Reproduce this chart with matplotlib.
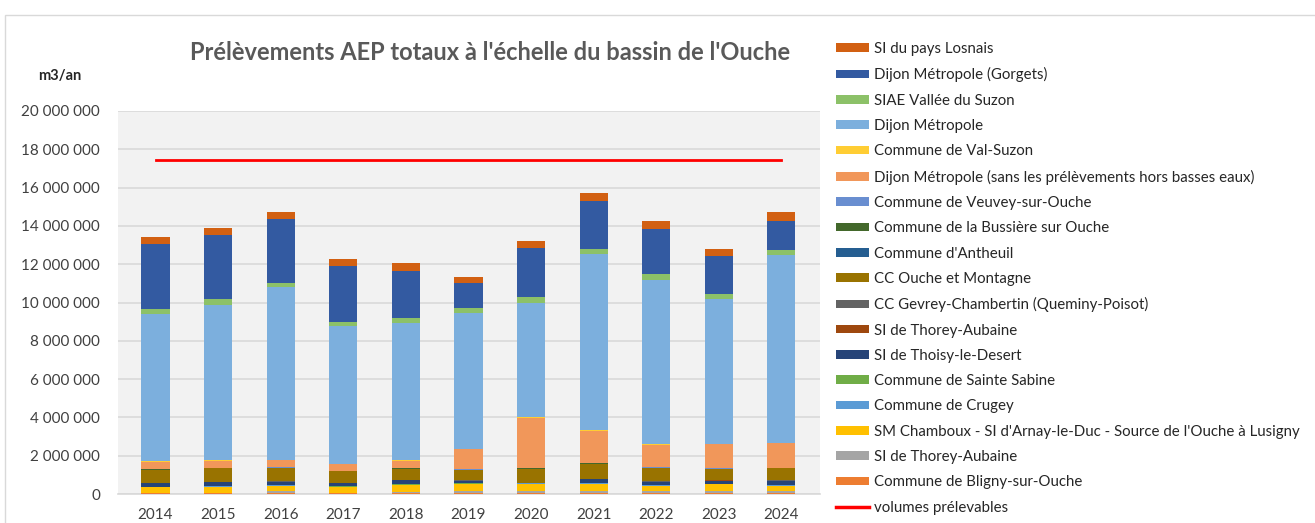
import numpy as np
import matplotlib
matplotlib.use("Agg")
import matplotlib.pyplot as plt
from matplotlib.patches import Patch, Rectangle
from matplotlib.lines import Line2D
from matplotlib.ticker import FuncFormatter

plt.rcParams['font.family'] = ['Lato', 'DejaVu Sans']

years = ['2014', '2015', '2016', '2017', '2018', '2019', '2020', '2021', '2022', '2023', '2024']

# volumes in millions of m3, stacked bottom -> top
bligny      = [0.04, 0.04, 0.04, 0.05, 0.04, 0.04, 0.04, 0.04, 0.04, 0.04, 0.04]
thorey_gris = [0.01, 0.01, 0.12, 0.02, 0.08, 0.12, 0.12, 0.12, 0.10, 0.12, 0.12]
chamboux    = [0.30, 0.33, 0.27, 0.30, 0.33, 0.36, 0.38, 0.38, 0.29, 0.34, 0.27]
crugey      = [0.02, 0.02, 0.02, 0.02, 0.04, 0.02, 0.01, 0.05, 0.02, 0.03, 0.02]
sabine      = [0.01, 0.01, 0.01, 0.01, 0.01, 0.01, 0.01, 0.01, 0.01, 0.01, 0.01]
thoisy      = [0.18, 0.20, 0.18, 0.17, 0.21, 0.13, 0.01, 0.18, 0.17, 0.16, 0.22]
thorey_brun = [0.01, 0.01, 0.01, 0.01, 0.01, 0.01, 0.01, 0.01, 0.01, 0.01, 0.01]
gevrey      = [0.02, 0.02, 0.02, 0.02, 0.02, 0.02, 0.02, 0.02, 0.02, 0.02, 0.02]
ouche_mont  = [0.68, 0.70, 0.69, 0.58, 0.58, 0.54, 0.72, 0.77, 0.70, 0.58, 0.63]
antheuil    = [0.01, 0.01, 0.01, 0.01, 0.01, 0.01, 0.01, 0.01, 0.01, 0.01, 0.01]
bussiere    = [0.01, 0.01, 0.01, 0.01, 0.01, 0.01, 0.01, 0.01, 0.01, 0.01, 0.01]
veuvey      = [0.02, 0.02, 0.02, 0.02, 0.02, 0.02, 0.02, 0.04, 0.02, 0.04, 0.02]
dijon_hbe   = [0.38, 0.37, 0.39, 0.36, 0.36, 1.04, 2.60, 1.67, 1.16, 1.25, 1.27]
val_suzon   = [0.01, 0.01, 0.01, 0.01, 0.06, 0.01, 0.04, 0.05, 0.05, 0.01, 0.03]
dijon       = [7.70, 8.09, 9.00, 7.16, 7.17, 7.11, 6.00, 9.16, 8.59, 7.54, 9.82]
siae_suzon  = [0.25, 0.33, 0.22, 0.22, 0.22, 0.28, 0.30, 0.25, 0.30, 0.25, 0.22]
gorgets     = [3.40, 3.32, 3.33, 2.93, 2.48, 1.27, 2.55, 2.55, 2.35, 2.00, 1.53]
losnais     = [0.35, 0.40, 0.35, 0.35, 0.40, 0.35, 0.35, 0.40, 0.40, 0.35, 0.45]

volumes_prelevables = 17.45

series = [
    ("Commune de Bligny-sur-Ouche", bligny, "#ED7D31"),
    ("SI de Thorey-Aubaine", thorey_gris, "#A5A5A5"),
    ("SM Chamboux - SI d'Arnay-le-Duc - Source de l'Ouche à Lusigny", chamboux, "#FFC000"),
    ("Commune de Crugey", crugey, "#5B9BD5"),
    ("Commune de Sainte Sabine", sabine, "#70AD47"),
    ("SI de Thoisy-le-Desert", thoisy, "#264478"),
    ("SI de Thorey-Aubaine", thorey_brun, "#9E480E"),
    ("CC Gevrey-Chambertin (Queminy-Poisot)", gevrey, "#636363"),
    ("CC Ouche et Montagne", ouche_mont, "#997300"),
    ("Commune d'Antheuil", antheuil, "#255E91"),
    ("Commune de la Bussière sur Ouche", bussiere, "#43682B"),
    ("Commune de Veuvey-sur-Ouche", veuvey, "#698ED0"),
    ("Dijon Métropole (sans les prélèvements hors basses eaux)", dijon_hbe, "#F1975A"),
    ("Commune de Val-Suzon", val_suzon, "#FFCD33"),
    ("Dijon Métropole", dijon, "#7CAFDD"),
    ("SIAE Vallée du Suzon", siae_suzon, "#8CC168"),
    ("Dijon Métropole (Gorgets)", gorgets, "#335AA1"),
    ("SI du pays Losnais", losnais, "#D26012"),
]

fig = plt.figure(figsize=(13.15, 5.23), dpi=100)
ax = fig.add_axes([0.0897, 0.0554, 0.534, 0.7324])
ax.set_facecolor('#F2F2F2')

# chart border
fig.patches.append(Rectangle((5 / 1315, -0.1), 1.1, (523 - 15) / 523 + 0.1,
                             transform=fig.transFigure, fill=False,
                             edgecolor='#D9D9D9', linewidth=1))

x = np.arange(len(years))
bottom = np.zeros(len(years))
handles = []
for label, vals, color in series:
    v = np.array(vals) * 1e6
    ax.bar(x, v, width=0.45, bottom=bottom, color=color, edgecolor='none', zorder=3)
    bottom += v
    handles.append(Patch(facecolor=color, label=label))

ax.plot(x, [volumes_prelevables * 1e6] * len(x), color='#FF0000', linewidth=2, zorder=4)
handles = handles[::-1] + [Line2D([0], [0], color='#FF0000', linewidth=2.5, label='volumes prélevables')]

ax.set_xlim(-0.6, 10.62)
ax.set_ylim(0, 20e6)
ax.set_yticks(np.arange(0, 20e6 + 1, 2e6))
ax.yaxis.set_major_formatter(FuncFormatter(lambda v, p: f"{int(v):,}".replace(',', ' ')))
ax.set_xticks(x)
ax.set_xticklabels(years)
ax.grid(axis='y', color='#D9D9D9', linewidth=1.2, zorder=0)
for s in ['top', 'right', 'left']:
    ax.spines[s].set_visible(False)
ax.spines['bottom'].set_color('#D9D9D9')
ax.spines['bottom'].set_linewidth(1.2)
ax.tick_params(axis='both', length=0, labelsize=11, colors='#404040')
ax.tick_params(axis='y', pad=13)
ax.tick_params(axis='x', pad=10)

fig.text(490 / 1315, 1 - 52 / 523, "Prélèvements AEP totaux à l'échelle du bassin de l'Ouche",
         ha='center', va='center', fontsize=17, fontweight='bold', color='#595959')
fig.text(60 / 1315, 1 - 76 / 523, "m3/an", ha='center', va='center', fontsize=10.5,
         fontweight='bold', color='#262626')

fig.legend(handles=handles, loc='upper left', bbox_to_anchor=(830 / 1315, 1 - 36 / 523),
           frameon=False, fontsize=10.85, labelcolor='#262626', handlelength=2.2,
           handleheight=0.5, handletextpad=0.3, labelspacing=0.75, borderaxespad=0)

fig.savefig('out.png', dpi=100, facecolor='white')
